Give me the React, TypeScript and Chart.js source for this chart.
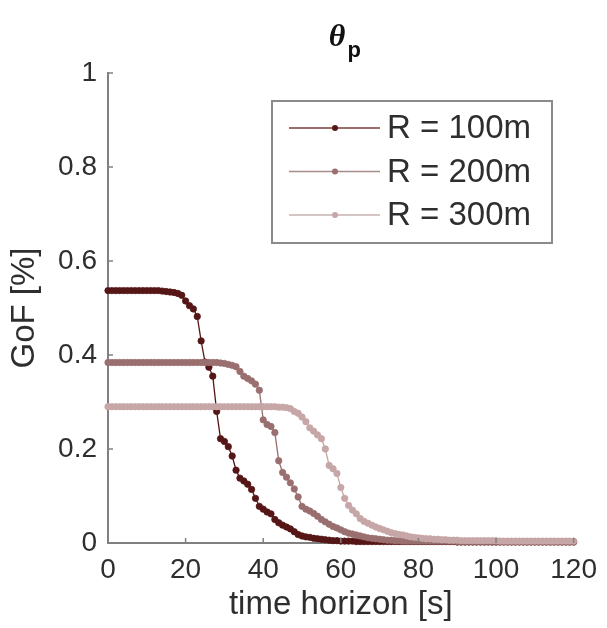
import React, { useEffect, useRef } from 'react';
import { Chart, registerables } from 'chart.js';

Chart.register(...registerables);

const TIME = [
  0, 1, 2, 3, 4, 5, 6, 7, 8, 9, 10, 11, 12, 13, 14, 15, 16, 17, 18, 19,
  20, 21, 22, 23, 24, 25, 26, 27, 28, 29, 30, 31, 32, 33, 34, 35, 36, 37, 38, 39,
  40, 41, 42, 43, 44, 45, 46, 47, 48, 49, 50, 51, 52, 53, 54, 55, 56, 57, 58, 59,
  60, 61, 62, 63, 64, 65, 66, 67, 68, 69, 70, 71, 72, 73, 74, 75, 76, 77, 78, 79,
  80, 81, 82, 83, 84, 85, 86, 87, 88, 89, 90, 91, 92, 93, 94, 95, 96, 97, 98, 99,
  100, 101, 102, 103, 104, 105, 106, 107, 108, 109, 110, 111, 112, 113, 114, 115, 116, 117, 118, 119,
  120,
];

const GOF_R100 = [
  0.537, 0.537, 0.537, 0.537, 0.537, 0.537, 0.537, 0.537, 0.537, 0.537, 0.537, 0.537, 0.537, 0.537, 0.536,
  0.535, 0.534, 0.533, 0.531, 0.527, 0.515, 0.505, 0.498, 0.482, 0.43,
  0.385, 0.374, 0.355, 0.28, 0.222, 0.216, 0.205, 0.185, 0.155, 0.138,
  0.132, 0.125, 0.114, 0.095, 0.078, 0.072, 0.066, 0.062, 0.05, 0.043,
  0.038, 0.034, 0.03, 0.024, 0.018, 0.015, 0.013, 0.012, 0.01, 0.009,
  0.008, 0.007, 0.006, 0.005, 0.005, 0.004, 0.004, 0.004, 0.004, 0.003,
  0.003, 0.003, 0.003, 0.003, 0.003, 0.003, 0.003, 0.003, 0.003, 0.003,
  0.003, 0.003, 0.003, 0.003, 0.003, 0.003, 0.003, 0.003, 0.003, 0.003,
  0.003, 0.003, 0.003, 0.003, 0.003, 0.002, 0.002, 0.002, 0.002, 0.002,
  0.002, 0.002, 0.002, 0.002, 0.002, 0.002, 0.002, 0.002, 0.002, 0.002,
  0.002, 0.002, 0.002, 0.002, 0.002, 0.002, 0.002, 0.002, 0.002, 0.002,
  0.002, 0.002, 0.002, 0.002, 0.002, 0.002,
];

const GOF_R200 = [
  0.384, 0.384, 0.384, 0.384, 0.384, 0.384, 0.384, 0.384, 0.384, 0.384, 0.384, 0.384, 0.384, 0.384, 0.384,
  0.384, 0.384, 0.384, 0.384, 0.384, 0.384, 0.384, 0.384, 0.384, 0.384,
  0.384, 0.384, 0.384, 0.384, 0.383, 0.382, 0.38, 0.378, 0.375, 0.365,
  0.355, 0.35, 0.345, 0.338, 0.325, 0.262, 0.252, 0.248, 0.235, 0.175,
  0.15, 0.14, 0.128, 0.115, 0.098, 0.078, 0.072, 0.068, 0.063, 0.057,
  0.05, 0.045, 0.04, 0.035, 0.032, 0.028, 0.024, 0.021, 0.019, 0.017,
  0.015, 0.013, 0.011, 0.01, 0.009, 0.008, 0.007, 0.006, 0.006, 0.005,
  0.005, 0.004, 0.004, 0.004, 0.004, 0.004, 0.004, 0.004, 0.004, 0.004,
  0.004, 0.004, 0.004, 0.004, 0.004, 0.003, 0.003, 0.003, 0.003, 0.003,
  0.003, 0.003, 0.003, 0.003, 0.003, 0.003, 0.003, 0.003, 0.003, 0.003,
  0.003, 0.003, 0.003, 0.003, 0.003, 0.003, 0.003, 0.003, 0.003, 0.003,
  0.003, 0.003, 0.003, 0.003, 0.003, 0.003,
];

const GOF_R300 = [
  0.29, 0.29, 0.29, 0.29, 0.29, 0.29, 0.29, 0.29, 0.29, 0.29, 0.29, 0.29, 0.29, 0.29, 0.29,
  0.29, 0.29, 0.29, 0.29, 0.29, 0.29, 0.29, 0.29, 0.29, 0.29,
  0.29, 0.29, 0.29, 0.29, 0.29, 0.29, 0.29, 0.29, 0.29, 0.29,
  0.29, 0.29, 0.29, 0.29, 0.29, 0.29, 0.29, 0.29, 0.29, 0.289,
  0.289, 0.288, 0.286, 0.28, 0.276, 0.268, 0.258, 0.245, 0.238, 0.23,
  0.222, 0.2, 0.165, 0.158, 0.148, 0.118, 0.095, 0.08, 0.07, 0.062,
  0.052, 0.046, 0.042, 0.038, 0.034, 0.031, 0.028, 0.025, 0.022, 0.02,
  0.018, 0.017, 0.015, 0.013, 0.012, 0.011, 0.01, 0.009, 0.009, 0.008,
  0.008, 0.007, 0.007, 0.006, 0.006, 0.006, 0.005, 0.005, 0.005, 0.005,
  0.005, 0.005, 0.005, 0.005, 0.005, 0.005, 0.004, 0.004, 0.004, 0.004,
  0.004, 0.004, 0.004, 0.004, 0.004, 0.004, 0.004, 0.004, 0.004, 0.004,
  0.004, 0.004, 0.004, 0.004, 0.004, 0.004,
];

const SERIES_LABELS = ['R = 100m', 'R = 200m', 'R = 300m'];
const SERIES_COLORS = ['#561616', '#9a6f6f', '#c6a6a6'];
const LEGEND_LINE_COLORS = ['#7a3c3c', '#a88b8b', '#c9b2b2'];
const X_TICKS = [0, 20, 40, 60, 80, 100, 120];
const Y_TICKS = [0, 0.2, 0.4, 0.6, 0.8, 1];
const X_TITLE = 'time horizon [s]';
const Y_TITLE = 'GoF [%]';
const TITLE_MAIN = 'θ';
const TITLE_SUB = 'p';

const FONT = "'Liberation Sans', Arial, Helvetica, sans-serif";
const AXIS_COLOR = '#808080';
const TEXT_COLOR = '#2e2e2e';

const inwardTicks = {
  id: 'inwardTicks',
  afterDatasetsDraw(chart: any) {
    const { ctx, chartArea, scales } = chart;
    const x = scales.x;
    const y = scales.y;
    ctx.save();
    ctx.strokeStyle = AXIS_COLOR;
    ctx.lineWidth = 1.5;
    X_TICKS.forEach((v) => {
      const px = x.getPixelForValue(v);
      ctx.beginPath();
      ctx.moveTo(px, chartArea.bottom);
      ctx.lineTo(px, chartArea.bottom - 5);
      ctx.stroke();
    });
    Y_TICKS.forEach((v) => {
      const py = y.getPixelForValue(v);
      ctx.beginPath();
      ctx.moveTo(chartArea.left, py);
      ctx.lineTo(chartArea.left + 5, py);
      ctx.stroke();
    });
    ctx.restore();
  },
};

const titlePlugin = {
  id: 'subscriptTitle',
  afterDraw(chart: any) {
    const { ctx, chartArea } = chart;
    const cx = (chartArea.left + chartArea.right) / 2;
    ctx.save();
    ctx.fillStyle = '#111';
    ctx.textBaseline = 'alphabetic';
    ctx.textAlign = 'left';
    ctx.font = "italic bold 32px 'Liberation Serif', 'Times New Roman', serif";
    const w = ctx.measureText(TITLE_MAIN).width;
    ctx.fillText(TITLE_MAIN, cx - 12, 46);
    ctx.font = `bold 22px ${FONT}`;
    ctx.fillText(TITLE_SUB, cx - 12 + w + 2, 57);
    ctx.restore();
  },
};

const legendPlugin = {
  id: 'boxLegend',
  afterDraw(chart: any) {
    const { ctx, chartArea } = chart;
    const left = chartArea.left + 164;
    const top = chartArea.top + 28;
    const width = 280;
    const height = 142;
    ctx.save();
    ctx.fillStyle = '#ffffff';
    ctx.fillRect(left, top, width, height);
    ctx.strokeStyle = '#8a8a8a';
    ctx.lineWidth = 2;
    ctx.strokeRect(left, top, width, height);
    chart.data.datasets.forEach((ds: any, i: number) => {
      const cy = top + 27 + i * 43.5;
      ctx.strokeStyle = LEGEND_LINE_COLORS[i];
      ctx.lineWidth = 1.5;
      ctx.beginPath();
      ctx.moveTo(left + 17, cy);
      ctx.lineTo(left + 108, cy);
      ctx.stroke();
      ctx.fillStyle = ds.borderColor;
      ctx.beginPath();
      ctx.arc(left + 63, cy, 3, 0, Math.PI * 2);
      ctx.fill();
      ctx.fillStyle = TEXT_COLOR;
      ctx.font = `33px ${FONT}`;
      ctx.textBaseline = 'middle';
      ctx.textAlign = 'left';
      ctx.fillText(ds.label, left + 115, cy + 1);
    });
    ctx.restore();
  },
};

export default function App() {
  const canvasRef = useRef<HTMLCanvasElement | null>(null);

  useEffect(() => {
    document.body.style.margin = '0';
    const canvas = canvasRef.current;
    if (!canvas) return;
    const seriesValues = [GOF_R100, GOF_R200, GOF_R300];
    const datasets = seriesValues.map((vals, i) => ({
      label: SERIES_LABELS[i],
      data: TIME.map((t, k) => ({ x: t, y: vals[k] })),
      borderColor: SERIES_COLORS[i],
      backgroundColor: SERIES_COLORS[i],
      pointBackgroundColor: SERIES_COLORS[i],
      pointBorderColor: SERIES_COLORS[i],
      borderWidth: 1.3,
      pointRadius: 3.2,
      pointBorderWidth: 0.8,
      pointHoverRadius: 0,
      tension: 0,
      fill: false,
      clip: false as any,
      order: 3 - i,
    }));

    const chart = new Chart(canvas, {
      type: 'line',
      data: { datasets },
      plugins: [inwardTicks, titlePlugin, legendPlugin],
      options: {
        animation: false,
        responsive: false,
        maintainAspectRatio: false,
        events: [],
        layout: { padding: { top: 73, right: 25, left: 0, bottom: 0 } },
        plugins: {
          legend: { display: false },
          tooltip: { enabled: false },
          title: { display: false },
        },
        scales: {
          x: {
            type: 'linear',
            min: 0,
            max: 120,
            afterBuildTicks: (scale: any) => {
              scale.ticks = X_TICKS.map((v) => ({ value: v }));
            },
            afterFit: (scale: any) => {
              scale.height = 85;
            },
            grid: { display: false, drawTicks: false },
            border: { display: true, color: AXIS_COLOR, width: 2 },
            ticks: {
              color: TEXT_COLOR,
              font: { family: FONT, size: 28 },
              padding: 10,
              maxRotation: 0,
              autoSkip: false,
            },
            title: {
              display: true,
              text: X_TITLE,
              color: TEXT_COLOR,
              font: { family: FONT, size: 33 },
              padding: { top: 0, bottom: 3 },
            },
          },
          y: {
            type: 'linear',
            min: 0,
            max: 1,
            afterBuildTicks: (scale: any) => {
              scale.ticks = Y_TICKS.map((v) => ({ value: v }));
            },
            afterFit: (scale: any) => {
              scale.width = 108;
            },
            grid: { display: false, drawTicks: false },
            border: { display: true, color: AXIS_COLOR, width: 2 },
            ticks: {
              color: TEXT_COLOR,
              font: { family: FONT, size: 28 },
              padding: 11,
              autoSkip: false,
              callback: (v: any) => String(Math.round(Number(v) * 10) / 10),
            },
            title: {
              display: true,
              text: Y_TITLE,
              color: TEXT_COLOR,
              font: { family: FONT, size: 33 },
              padding: { top: 5, bottom: 0 },
            },
          },
        },
      },
    });

    return () => {
      chart.destroy();
    };
  }, []);

  return (
    <div style={{ width: 607, height: 628, background: '#ffffff' }}>
      <canvas ref={canvasRef} width={607} height={628} style={{ display: 'block' }} />
    </div>
  );
}
